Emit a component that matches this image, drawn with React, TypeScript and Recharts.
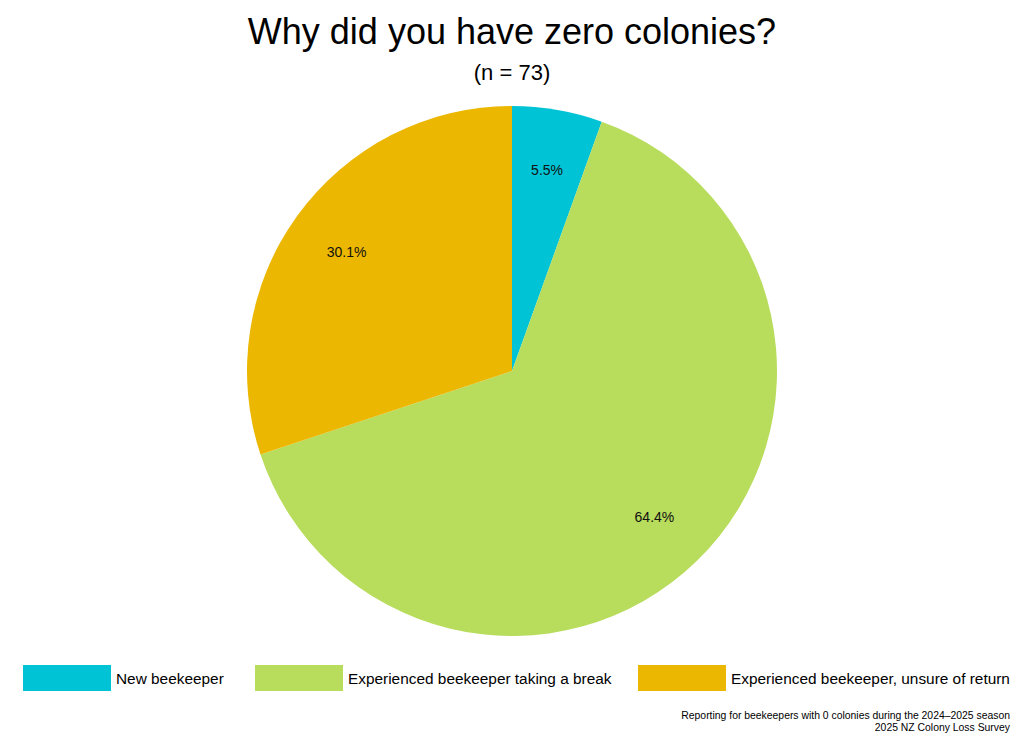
import React from "react";
import { PieChart, Pie, Cell } from "recharts";

const categories = [
  "New beekeeper",
  "Experienced beekeeper taking a break",
  "Experienced beekeeper, unsure of return",
];
const values = [5.5, 64.4, 30.1];
const colors = ["#00C4D6", "#B8DC5C", "#EBB700"];
const title = "Why did you have zero colonies?";
const subtitle = "(n = 73)";
const footer = [
  "Reporting for beekeepers with 0 colonies during the 2024\u20132025 season",
  "2025 NZ Colony Loss Survey",
];

const data = categories.map((name, i) => ({ name, value: values[i] }));
const RAD = Math.PI / 180;
const FONT = "'Liberation Sans', Arial, Helvetica, sans-serif";

const renderLabel = (props: any) => {
  const { cx, cy, midAngle, value } = props;
  const r = 204;
  const x = cx + r * Math.cos(-midAngle * RAD);
  const y = cy + r * Math.sin(-midAngle * RAD);
  return (
    <text x={x} y={y} textAnchor="middle" dominantBaseline="central" fontSize={14} fill="#111" fontFamily={FONT}>
      {value.toFixed(1)}%
    </text>
  );
};

const legendX = [23, 255, 638];

export default function App() {
  return (
    <div style={{ position: "fixed", left: 0, top: 0, width: 1024, height: 745, background: "#fff" }}>
      <PieChart width={1024} height={745} margin={{ top: 0, right: 0, bottom: 0, left: 0 }}>
        <text x={512} y={44} textAnchor="middle" fontSize={36} fontFamily={FONT} fill="#000">{title}</text>
        <text x={512} y={80} textAnchor="middle" fontSize={22} fontFamily={FONT} fill="#000">{subtitle}</text>
        <Pie
          data={data}
          dataKey="value"
          nameKey="name"
          cx={512}
          cy={371}
          outerRadius={265}
          startAngle={90}
          endAngle={-270}
          stroke="none"
          label={renderLabel}
          labelLine={false}
          isAnimationActive={false}
        >
          {data.map((d, i) => (
            <Cell key={d.name} fill={colors[i]} />
          ))}
        </Pie>
        {data.map((d, i) => (
          <g key={d.name}>
            <rect x={legendX[i]} y={665} width={88} height={26} fill={colors[i]} />
            <text x={legendX[i] + 93} y={684} fontSize={15.4} fontFamily={FONT} fill="#000">{d.name}</text>
          </g>
        ))}
        <text x={1010} y={719} textAnchor="end" fontSize={10.4} fontFamily={FONT} fill="#000">{footer[0]}</text>
        <text x={1010} y={731} textAnchor="end" fontSize={10.4} fontFamily={FONT} fill="#000">{footer[1]}</text>
      </PieChart>
    </div>
  );
}
